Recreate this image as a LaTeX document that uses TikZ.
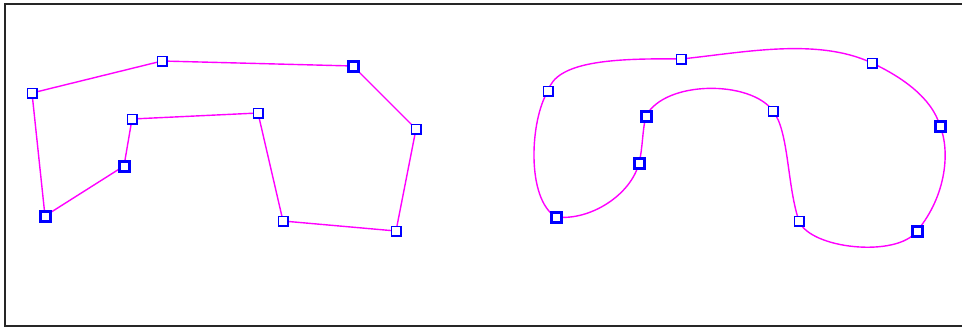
\documentclass[tikz,border=0pt]{standalone}
\definecolor{pinkline}{RGB}{255,0,255}
\begin{document}
\begin{tikzpicture}[x=1pt,y=-1pt,
    ctrl/.style={draw=blue, fill=white, line width=1.5pt, minimum size=9.5pt, inner sep=0pt},
    ctrlbold/.style={ctrl, line width=3pt, minimum size=10pt},
    edge/.style={draw=pinkline, line width=1.4pt}]
    \useasboundingbox (0,0) rectangle (962,327);
    % frame
    \draw[line width=2pt, black!85] (966,4) -- (5,4) -- (5,325.5) -- (966,325.5);
    % control polygon
    \coordinate (p1) at (32,93);
    \coordinate (p2) at (162,61);
    \coordinate (p3) at (353,66);
    \coordinate (p4) at (416,129);
    \coordinate (p5) at (396,231);
    \coordinate (p6) at (283,221);
    \coordinate (p7) at (258,113);
    \coordinate (p8) at (132,119);
    \coordinate (p9) at (124,166);
    \coordinate (p10) at (45,216);
    \draw[edge] (p1) -- (p2) -- (p3) -- (p4) -- (p5) -- (p6) -- (p7) -- (p8) -- (p9) -- (p10) -- cycle;
    % smooth curve
    \coordinate (q1) at (548,91);
    \coordinate (q2) at (681,59);
    \coordinate (q3) at (872,63);
    \coordinate (q4) at (940,126);
    \coordinate (q5) at (917,231);
    \coordinate (q6) at (799,221);
    \coordinate (q7) at (773,111);
    \coordinate (q8) at (646,116);
    \coordinate (q9) at (639,163);
    \coordinate (q10) at (556,217);
    \draw[edge] (q1) .. controls +(8,-29) and +(-71,-1) .. (q2)
        .. controls +(60,-6) and +(-55,-26) .. (q3)
        .. controls +(30,14) and +(-8,-28) .. (q4)
        .. controls +(10,24) and +(30,-36) .. (q5)
        .. controls +(-20,27) and +(11,28) .. (q6)
        .. controls +(-12,-35) and +(16,20) .. (q7)
        .. controls +(-22,-31) and +(19,-36) .. (q8)
        .. controls +(-4,16) and +(4,-16) .. (q9)
        .. controls +(-8,32) and +(34,4) .. (q10)
        .. controls +(-30,-18) and +(-18,29) .. (q1) -- cycle;
    % markers
    \foreach \n in {1,2,4,5,6,7,8} \node[ctrl] (mp\n) at (p\n) {};
    \foreach \n in {3,9,10} \node[ctrlbold] (mp\n) at (p\n) {};
    \foreach \n in {1,2,3,6,7} \node[ctrl] (mq\n) at (q\n) {};
    \foreach \n in {4,5,8,9,10} \node[ctrlbold] (mq\n) at (q\n) {};
\end{tikzpicture}
\end{document}
